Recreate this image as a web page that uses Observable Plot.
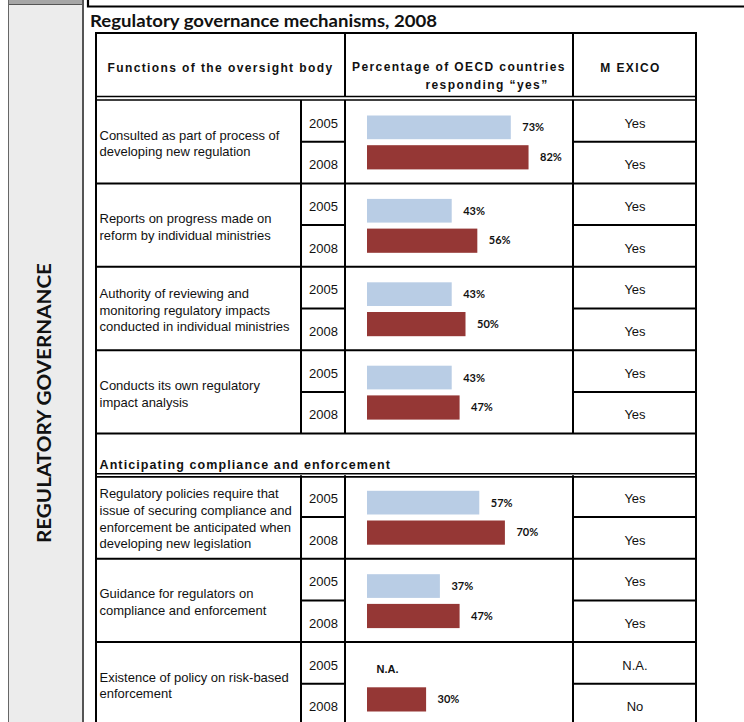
<!DOCTYPE html>
<html><head><meta charset="utf-8">
<script src="https://cdn.jsdelivr.net/npm/d3@7"></script>
<script src="https://cdn.jsdelivr.net/npm/@observablehq/plot@0.6"></script>
<style>
html,body{margin:0;padding:0;background:#fff;}
#chart{width:744px;height:722px;overflow:hidden;}
</style></head><body><div id="chart"></div>
<script>
// ---------- data ----------
const title = "Regulatory governance mechanisms, 2008";
const sideLabel = "REGULATORY GOVERNANCE";
const headerFunctions = "Functions of the oversight body";
const headerPercent = ["Percentage of OECD countries", "responding “yes”"];
const headerCountry = "M EXICO";
const sections = ["", "Anticipating compliance and enforcement"];
const functions = [
  "Consulted as part of process of\ndeveloping new regulation",
  "Reports on progress made on\nreform by individual ministries",
  "Authority of reviewing and\nmonitoring regulatory impacts\nconducted in individual ministries",
  "Conducts its own regulatory\nimpact analysis",
  "Regulatory policies require that\nissue of securing compliance and\nenforcement be anticipated when\ndeveloping new legislation",
  "Guidance for regulators on\ncompliance and enforcement",
  "Existence of policy on risk-based\nenforcement"
];
const functionSection = [0, 0, 0, 0, 1, 1, 1];
const years = ["2005", "2008"];
const oecd2005 = [73, 43, 43, 43, 57, 37, null];
const oecd2008 = [82, 56, 50, 47, 70, 47, 30];
const mexico2005 = ["Yes", "Yes", "Yes", "Yes", "Yes", "Yes", "N.A."];
const mexico2008 = ["Yes", "Yes", "Yes", "Yes", "Yes", "Yes", "No"];
const naLabel = "N.A.";

// ---------- build table rows ----------
const order = [];
const rows = [];
functions.forEach((f, i) => {
  const s = functionSection[i];
  if (sections[s] && s !== functionSection[i - 1]) order.push("sec" + s);
  years.forEach((yr, j) => {
    const id = i + "-" + yr;
    order.push(id);
    rows.push({id, i, func: f, year: yr,
      value: (j ? oecd2008 : oecd2005)[i],
      mexico: (j ? mexico2008 : mexico2005)[i]});
  });
});
const sectionRows = sections.map((label, k) => ({id: "sec" + k, label})).filter(d => d.label);

// ---------- layout ----------
const W = 744, H = 722;
const BODY_TOP = 100, BODY_BOTTOM = 725.5;
const TABLE_TOP = 33;
const COL = {left: 96, year: 301, pct: 345, mex: 573, right: 696};
const bw = (BODY_BOTTOM - BODY_TOP) / order.length;
const FONT = "'Liberation Sans', Arial, sans-serif";
const FONT2 = "Lato, 'Open Sans', sans-serif";
const INK = "#111";

const first = rows.filter(d => d.year === years[0]);
const second = rows.filter(d => d.year === years[1]);

const chart = Plot.plot({
  width: W, height: H, margin: 0,
  x: {domain: [0, 100], range: [367, 564], axis: null},
  y: {domain: order, range: [BODY_TOP, BODY_BOTTOM], padding: 0, round: false, axis: null},
  color: {domain: years, range: ["#b9cde5", "#953735"]},
  style: {fontFamily: FONT, fontSize: "13px", background: "white", color: INK},
  marks: [
    Plot.barX(first.filter(d => d.value != null), {x: "value", y: "id", fill: "year", insetTop: 15.5, insetBottom: 2.5}),
    Plot.barX(second.filter(d => d.value != null), {x: "value", y: "id", fill: "year", insetTop: 3.5, insetBottom: 14}),
    Plot.text(first.filter(d => d.value != null), {x: "value", y: "id", text: d => d.value + "%", textAnchor: "start", dx: 11, dy: 6.5, fontFamily: FONT2, fontWeight: "bold", fontSize: 11, fill: INK}),
    Plot.text(second.filter(d => d.value != null), {x: "value", y: "id", text: d => d.value + "%", textAnchor: "start", dx: 11, dy: -5.5, fontFamily: FONT2, fontWeight: "bold", fontSize: 11, fill: INK}),
    Plot.text(first.filter(d => d.value == null), {x: () => 0, y: "id", text: () => naLabel, textAnchor: "start", dx: 9, dy: 6.5, fontWeight: "bold", fontSize: 11, fill: INK}),
    Plot.text(second.filter(d => d.value == null), {x: () => 0, y: "id", text: () => naLabel, textAnchor: "start", dx: 9, dy: -5.5, fontWeight: "bold", fontSize: 11, fill: INK}),
    Plot.text(rows, {y: "id", text: "year", frameAnchor: "left", dx: (COL.year + COL.pct) / 2, textAnchor: "middle", dy: 2, fill: INK}),
    Plot.text(rows, {y: "id", text: "mexico", frameAnchor: "left", dx: (COL.mex + COL.right) / 2, textAnchor: "middle", dy: 2, fill: INK}),
    Plot.text(first, {y: "id", text: "func", frameAnchor: "left", dx: 99, textAnchor: "start", dy: bw / 2 + 0.5, lineHeight: 1.28, fill: INK}),
    Plot.text(sectionRows, {y: "id", text: "label", frameAnchor: "left", dx: 99, textAnchor: "start", dy: 10.5, fontWeight: "bold", fontSize: 12.5, fill: INK})
  ]
});

// ---------- table chrome ----------
const svg = d3.select(chart);
svg.selectAll("text").filter(function() { return sections.includes(this.textContent) && this.textContent; })
  .attr("letter-spacing", "1.1px");

const yb = d3.scaleBand(order, [BODY_TOP, BODY_BOTTOM]);
const g = svg.insert("g", ":first-child").attr("text-anchor", "start");
// side panel
g.append("rect").attr("x", 8).attr("y", 0).attr("width", 75).attr("height", H).attr("fill", "#ececec");
g.append("rect").attr("x", 8).attr("y", 0).attr("width", 75).attr("height", 4).attr("fill", "#a6a6a6");
const line = (x1, y1, x2, y2, w = 2, c = "#000") => g.append("line")
  .attr("x1", x1).attr("y1", y1).attr("x2", x2).attr("y2", y2)
  .attr("stroke", c).attr("stroke-width", w);
line(8, 4.5, 83, 4.5, 1, "#555");
line(8.5, 0, 8.5, H, 1, "#666");
line(83, 0, 83, H, 2, "#555");
// top frame
g.append("path").attr("d", "M88,0V6.5H744").attr("fill", "none").attr("stroke", "#000").attr("stroke-width", 2.2);

// horizontals
line(COL.left - 1, TABLE_TOP, COL.right + 1, TABLE_TOP);
line(COL.left, 96.5, COL.right, 96.5, 1.6);
line(COL.left, 100, COL.right, 100, 1.6);
// verticals in header
line(COL.left, TABLE_TOP, COL.left, H);
line(COL.right, TABLE_TOP, COL.right, H);
line(COL.pct, TABLE_TOP, COL.pct, 96.5);
line(COL.mex, TABLE_TOP, COL.mex, 96.5);
// groups
functions.forEach((f, i) => {
  const top = yb(i + "-" + years[0]);
  const mid = yb(i + "-" + years[1]);
  const bot = mid + yb.bandwidth();
  line(COL.left, bot, COL.right, bot);
  line(COL.year, mid, COL.pct, mid);
  line(COL.mex, mid, COL.right, mid);
  [COL.year, COL.pct, COL.mex].forEach(x => line(x, top, x, bot));
});
sectionRows.forEach(s => {
  const bot = yb(s.id) + yb.bandwidth();
  line(COL.left, bot - 1.6, COL.right, bot - 1.6, 1.6);
  line(COL.left, bot + 1.6, COL.right, bot + 1.6, 1.6);
});

// header texts
const htext = (x, y, t, anchor = "middle") => g.append("text")
  .attr("x", x).attr("y", y).attr("text-anchor", anchor).attr("dy", "0.35em")
  .attr("font-family", FONT).attr("font-weight", "bold").attr("font-size", 12)
  .attr("letter-spacing", "1.4px").attr("fill", INK).text(t);
htext((COL.left + COL.pct) / 2, 68, headerFunctions);
htext((COL.pct + COL.mex) / 2, 67, headerPercent[0]);
htext((COL.pct + COL.mex) / 2 + 28, 85, headerPercent[1]);
htext((COL.mex + COL.right) / 2 - 4, 68, headerCountry);

// title
g.append("text").attr("x", 90).attr("y", 26.5).attr("text-anchor", "start").attr("font-family", FONT2).attr("font-weight", "bold")
  .attr("font-size", 17).attr("fill", INK).attr("textLength", 347).attr("lengthAdjust", "spacingAndGlyphs").text(title);
// side label
g.append("text").attr("transform", "translate(51,403) rotate(-90)").attr("text-anchor", "middle")
  .attr("font-family", FONT2).attr("font-weight", "bold").attr("font-size", 19).attr("fill", INK)
  .attr("textLength", 280).attr("lengthAdjust", "spacingAndGlyphs").text(sideLabel);

document.getElementById("chart").appendChild(chart);
</script></body></html>
